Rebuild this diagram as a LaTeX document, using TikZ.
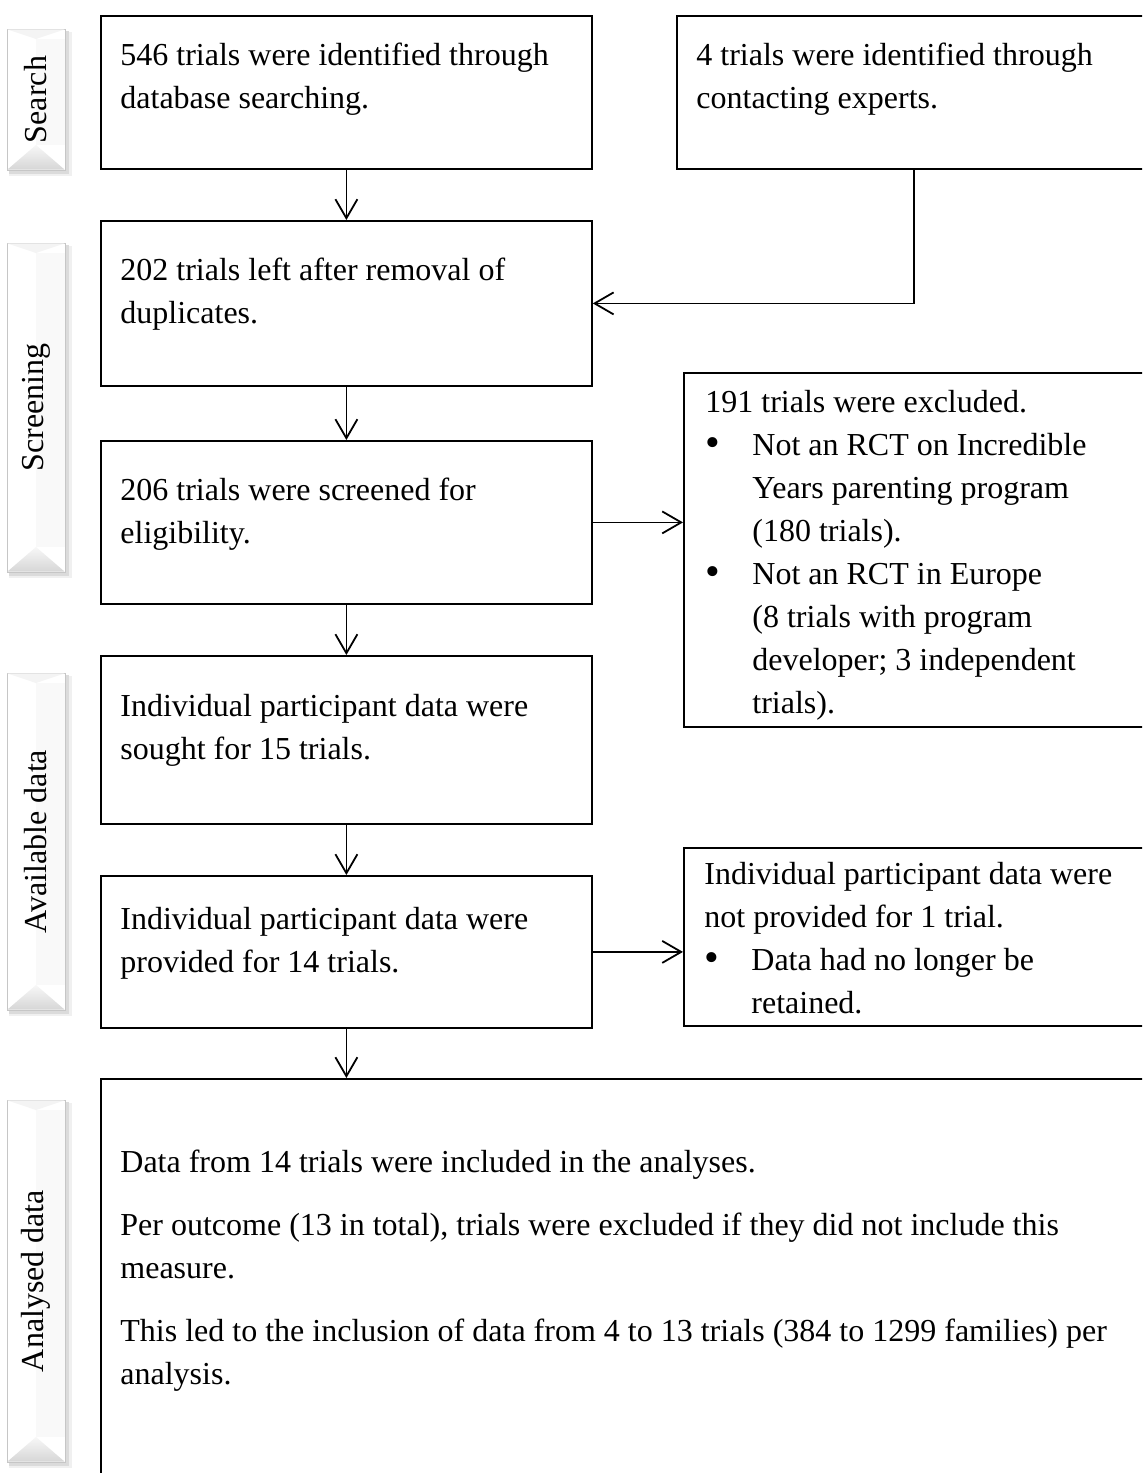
\documentclass[tikz,border=0pt]{standalone}
\usepackage{fontspec}
\setmainfont{Liberation Serif}
\usetikzlibrary{arrows.meta,calc}
\newcommand\bmark{\makebox[23.5pt][l]{\raisebox{-0.6pt}{\fontsize{21}{21}\selectfont\textbullet}}}
\newcommand\bind{\hspace*{23.5pt}}
\newcommand\sidetab[4]{%
  \fill[gray!12] (9,#1+3) rectangle (72,#2+6);
  \fill[gray!28] (9,#1+2) rectangle (69,#2+4);
  \filldraw[fill=white, draw=gray!45, line width=0.4pt] (7,#1) rectangle (65,#2);
  \fill[gray!5] (36,#1+10) rectangle (64.6,#2-25);
  \fill[gray!9] (7.4,#1+0.4) -- (36,#1+10) -- (64.6,#1+0.4) -- cycle;
  \shade[top color=gray!6, bottom color=gray!32] (7.4,#2-0.4) -- (36,#2-25) -- (64.6,#2-0.4) -- cycle;
  \node[tabtxt] (#4) at (36,{(#1+#2)/2}) {#3};
}
\begin{document}
\begin{tikzpicture}[x=0.5pt,y=-0.5pt,
  box/.style={draw, line width=0.9pt, anchor=north west, inner sep=0pt},
  txt/.style={anchor=base west, inner sep=0pt, align=flush left, text width=262pt,
    font=\fontsize{16}{21.5}\selectfont},
  tabtxt/.style={rotate=90, inner sep=0pt, font=\fontsize{16}{21.5}\selectfont},
  arr/.style={line width=0.9pt, -{Straight Barb[length=9.5pt,width=11pt,line width=0.9pt]}},
]
\useasboundingbox (0,0) rectangle (1142,1473);
\fill[white] (0,0) rectangle (1142,1473);
\clip (0,0) rectangle (1142,1473);

% side tabs
\sidetab{29}{170}{Search}{tabS}
\sidetab{243}{572}{Screening}{tabSc}
\sidetab{673}{1010}{Available data}{tabA}
\sidetab{1100}{1462}{Analysed data}{tabAn}

% boxes
\node[box, minimum width=245.5pt, minimum height=76.5pt] (b1) at (100,15) {};
\node[box, minimum width=242pt, minimum height=76.5pt] (bexp) at (676,15) {};
\node[box, minimum width=245.5pt, minimum height=82.5pt] (b2) at (100,220) {};
\node[box, minimum width=245.5pt, minimum height=81.5pt] (b3) at (100,440) {};
\node[box, minimum width=238.5pt, minimum height=177pt] (bex) at (683,372) {};
\node[box, minimum width=245.5pt, minimum height=84pt] (b4) at (100,655) {};
\node[box, minimum width=245.5pt, minimum height=76pt] (b5) at (100,875) {};
\node[box, minimum width=238.5pt, minimum height=89pt] (b6) at (683,847) {};
\node[box, minimum width=530pt, minimum height=206pt] (bot) at (100,1078) {};

% texts
\node[txt] (t1) at (120,65) {546 trials were identified through\\database searching.};
\node[txt] (texp) at (696,65) {4 trials were identified through\\contacting experts.};
\node[txt] (t2) at (120,280) {202 trials left after removal of\\duplicates.};
\node[txt] (t3) at (120,500) {206 trials were screened for\\eligibility.};
\node[txt] (tex) at (705,412) {191 trials were excluded.\\
  \bmark Not an RCT on Incredible\\
  \bind Years parenting program\\
  \bind (180 trials).\\
  \bmark Not an RCT in Europe\\
  \bind (8 trials with program\\
  \bind developer; 3 independent\\
  \bind trials).};
\node[txt] (t4) at (120,716) {Individual participant data were\\sought for 15 trials.};
\node[txt] (t5) at (120,929) {Individual participant data were\\provided for 14 trials.};
\node[txt] (t6) at (704,884) {Individual participant data were\\not provided for 1 trial.\\
  \bmark Data had no longer be\\
  \bind retained.};
\node[txt, text width=520pt] (tbot) at (120,1172) {Data from 14 trials were included in the analyses.\\[10pt]
  Per outcome (13 in total), trials were excluded if they did not include this\\measure.\\[10pt]
  This led to the inclusion of data from 4 to 13 trials (384 to 1299 families) per\\analysis.};

% connectors
\coordinate (ec) at (914,303);
\draw[arr] (b1.south) -- (b2.north);
\draw[arr] (bexp.south -| ec) |- (b2.east);
\draw[arr] (b2.south) -- (b3.north);
\draw[arr] (b3.east) -- (b3.east -| bex.west);
\draw[arr] (b3.south) -- (b4.north);
\draw[arr] (b4.south) -- (b5.north);
\draw[arr] (b5.east) -- (b5.east -| b6.west);
\draw[arr] (b5.south) -- (b5.south |- bot.north);
\end{tikzpicture}
\end{document}
